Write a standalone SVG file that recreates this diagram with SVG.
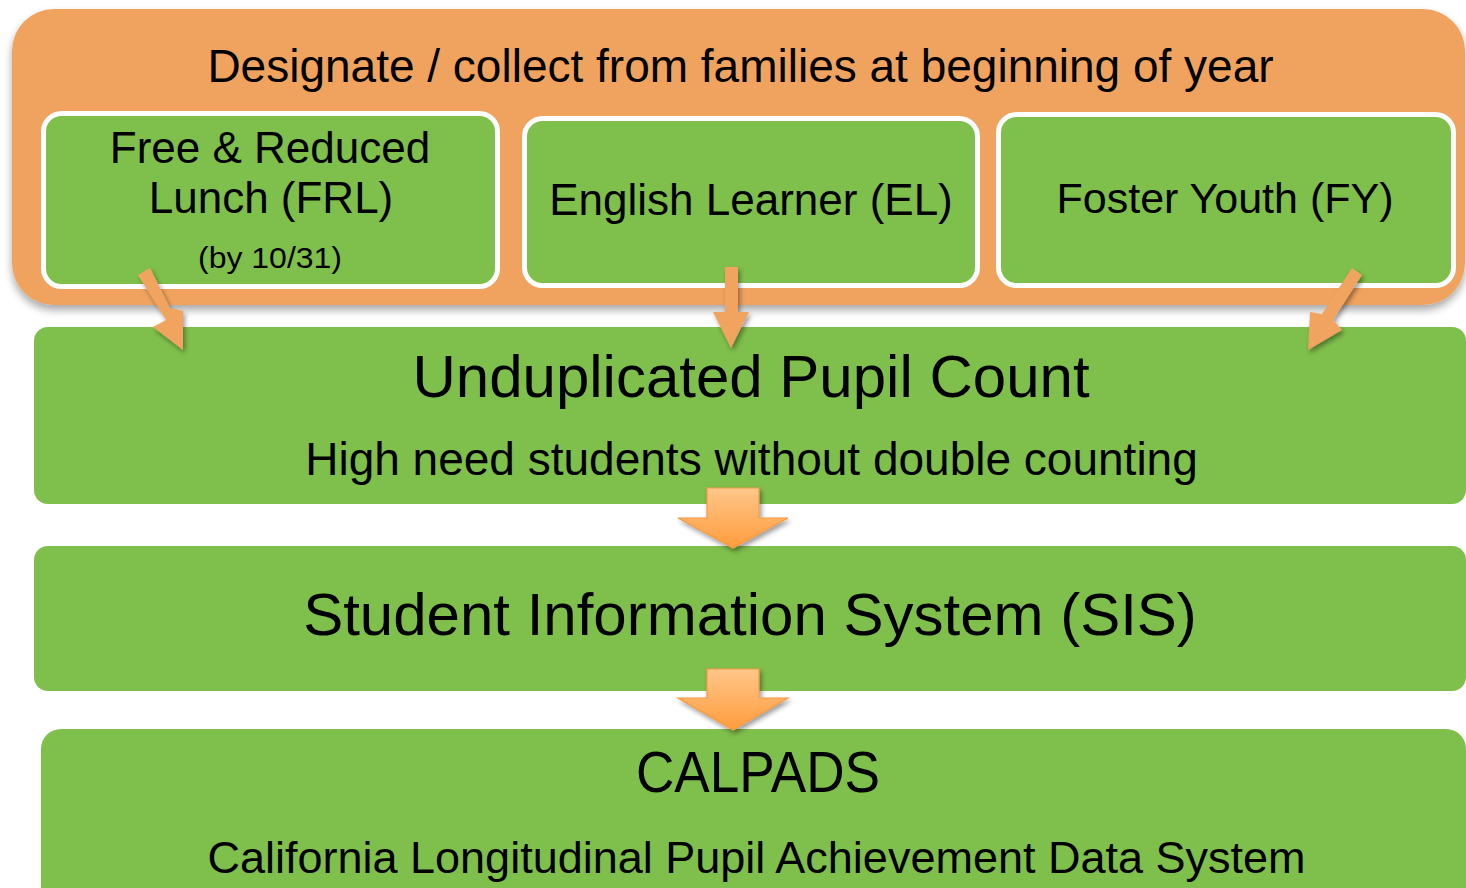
<svg xmlns="http://www.w3.org/2000/svg" width="1466" height="888" viewBox="0 0 1466 888">
<style>
  text { font-family: "Liberation Sans", Arial, sans-serif; fill: #000; text-anchor: middle; }
  .green { fill: #7FBF4B; }
  .inner { fill: #7FBF4B; stroke: #FFFFFF; stroke-width: 5; }
  .small-arrow { fill: #F0A45F; }
  .big-arrow { fill: url(#arrowGrad); stroke: #F39A48; stroke-width: 1.2; }
</style>
<defs>
  <filter id="shadow" x="-10%" y="-10%" width="120%" height="130%">
    <feGaussianBlur in="SourceAlpha" stdDeviation="4"/>
    <feOffset dx="0" dy="5" result="b"/>
    <feComponentTransfer><feFuncA type="linear" slope="0.35"/></feComponentTransfer>
    <feMerge><feMergeNode/><feMergeNode in="SourceGraphic"/></feMerge>
  </filter>
  <filter id="arrowShadow" x="-30%" y="-30%" width="160%" height="160%">
    <feGaussianBlur in="SourceAlpha" stdDeviation="2.5"/>
    <feOffset dx="2" dy="3" result="b"/>
    <feComponentTransfer><feFuncA type="linear" slope="0.4"/></feComponentTransfer>
    <feMerge><feMergeNode/><feMergeNode in="SourceGraphic"/></feMerge>
  </filter>
  <linearGradient id="arrowGrad" x1="0" y1="0" x2="0" y2="1">
    <stop offset="0" stop-color="#FFC68A"/>
    <stop offset="1" stop-color="#FF9C3C"/>
  </linearGradient>
</defs>

<g id="designate">
  <rect x="12" y="9" width="1453" height="296" rx="42" ry="42" fill="#F0A35E" filter="url(#shadow)"/>
  <text x="740.5" y="82" font-size="46">Designate / collect from families at beginning of year</text>
</g>

<g id="frl">
  <rect class="inner" x="43.5" y="113.5" width="454" height="173" rx="18" ry="18"/>
  <text x="270" y="163" font-size="44">Free &amp; Reduced</text>
  <text x="271" y="213" font-size="44">Lunch (FRL)</text>
  <text x="270" y="268" font-size="30" textLength="144" lengthAdjust="spacingAndGlyphs">(by 10/31)</text>
</g>

<g id="el">
  <rect class="inner" x="524.5" y="118.5" width="453" height="167" rx="18" ry="18"/>
  <text x="751" y="215" font-size="44">English Learner (EL)</text>
</g>

<g id="fy">
  <rect class="inner" x="998.5" y="114.5" width="455" height="171" rx="18" ry="18"/>
  <text x="1225" y="213" font-size="43">Foster Youth (FY)</text>
</g>

<g id="unduplicated">
  <rect class="green" x="34" y="327" width="1432" height="177" rx="14" ry="14"/>
  <text x="751" y="397" font-size="60">Unduplicated Pupil Count</text>
  <text x="751.5" y="475" font-size="46">High need students without double counting</text>
</g>

<g id="sis">
  <rect class="green" x="34" y="546" width="1432" height="145" rx="14" ry="14"/>
  <text x="750" y="635" font-size="60">Student Information System (SIS)</text>
</g>

<g id="calpads">
  <rect class="green" x="41" y="729" width="1425" height="180" rx="20" ry="20"/>
  <text x="758" y="792" font-size="58" textLength="244" lengthAdjust="spacingAndGlyphs">CALPADS</text>
  <text x="756.5" y="873" font-size="45">California Longitudinal Pupil Achievement Data System</text>
</g>

<g id="connectors">
  <polygon class="small-arrow" filter="url(#arrowShadow)" points="138,275 150,268 170,308 183,311 183,350 153,327 166,320"/>
  <polygon class="small-arrow" filter="url(#arrowShadow)" points="725,267 738,267 738,312 749,312 731,348 713,312 725,312"/>
  <polygon class="small-arrow" filter="url(#arrowShadow)" points="1352,268 1362,275 1333,320 1342,330 1308,350 1310,312 1322,314"/>
  <polygon class="big-arrow" filter="url(#arrowShadow)" points="707,488 759,488 759,518 788,518 733,548 678,518 707,518"/>
  <polygon class="big-arrow" filter="url(#arrowShadow)" points="707,669 759,669 759,698 788,698 733,730 678,698 707,698"/>
</g>
</svg>
